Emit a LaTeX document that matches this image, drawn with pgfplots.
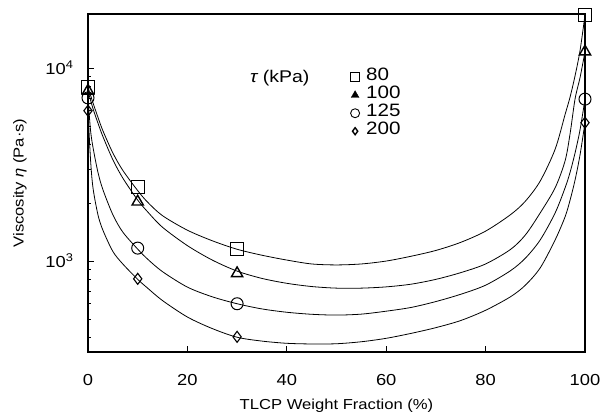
\documentclass[border=0pt]{standalone}
\usepackage{fontspec}
\setmainfont{Liberation Sans}[FakeStretch=1.15]
\usepackage{pgfplots}
\pgfplotsset{compat=1.18}
\usepackage{pgfplotstable}

% fitted curves (x = TLCP wt%, y = viscosity in Pa s)
\pgfplotstableread{
x     y
0     7943
1     6607
2     5559
3     4732
5     3631
7     2951
10    2317
12    2018
15    1718
20    1445
25    1274
30    1151
35    1072
40    1012
45    966
50    955
55    966
60    1000
65    1059
70    1135
75    1250
80    1429
85    1738
88    2042
91    2600
94    3802
96    5754
97    7079
98    9120
99    12303
100   18836
}\fitA
\pgfplotstableread{
x     y
0     7621
1     6166
2     5188
3     4416
5     3350
7     2692
10    2070
12    1799
15    1496
20    1202
25    1012
30    887
35    813
40    767
45    738
50    724
55    724
60    735
65    759
70    804
75    871
80    966
85    1148
88    1365
91    1778
94    2399
96    3311
97    4571
98    6918
99    8913
100   12162
}\fitB
\pgfplotstableread{
x     y
0     6998
0.5   4786
1     3890
2     2884
3     2344
5     1738
7     1413
10    1153
12    1023
15    881
20    733
25    653
30    601
35    565
40    543
45    530
50    525
55    531
60    550
65    575
70    617
75    673
80    750
85    891
88    1035
91    1288
94    1778
96    2399
97    2884
98    3631
99    4786
100   6902
}\fitC
\pgfplotstableread{
x     y
0     6012
0.5   3388
1     2399
2     1738
3     1445
5     1122
7     966
10    804
12    724
15    624
20    513
25    447
30    403
35    385
40    375
45    372
50    373
55    382
60    398
65    422
70    452
75    492
80    556
85    653
88    750
91    923
94    1288
96    1698
97    2070
98    2630
99    3548
100   5212
}\fitD

\begin{document}
\begin{tikzpicture}
\begin{axis}[
  scale only axis, width=497bp, height=338bp,
  ymode=log, xmin=0, xmax=100, ymin=338, ymax=19050,
  xtick={0,20,...,100},
  ytick={1000,10000}, yticklabels={10\textsuperscript{3},10\textsuperscript{4}},
  minor ytick={400,500,600,700,800,900,2000,3000,4000,5000,6000,7000,8000,9000},
  tick align=inside, xtick pos=bottom, ytick pos=left,
  major tick length=6pt, minor tick length=3.5pt,
  axis line style={line width=1.3pt}, tick style={line width=0.8pt,black},
  ticklabel style={font=\fontsize{16}{16}\selectfont},
  xticklabel style={anchor=base, yshift=-34bp},
  yticklabel style={anchor=east, xshift=-11bp},
  /pgf/number format/assume math mode=true,
  xlabel={TLCP Weight Fraction (\%)},
  ylabel={Viscosity {\itshape η} (Pa·s)},
  label style={font=\fontsize{14.5}{14.5}\selectfont},
  xlabel style={at={(axis description cs:0.5,0)}, anchor=base, yshift=-58bp},
  ylabel style={at={(axis description cs:-0.1368,0.5)}, anchor=center},
  clip=false,
  legend style={at={(rel axis cs:0.527,0.849)}, anchor=north west, draw=none, fill=none,
    font=\fontsize{18}{18}\selectfont, row sep=0bp, column sep=6bp, inner sep=0pt,
    nodes={inner sep=0pt, text height=12bp, text depth=0bp},
    legend cell align=left},
  legend image code/.code={\path[draw=none, fill=none] (-5bp,-9bp) rectangle (5bp,9bp);
    \draw[#1] plot coordinates {(0bp,-3bp)};},
]
\addlegendimage{only marks, mark=square, mark size=4.5bp, line width=1.2pt}
\addlegendentry{80}
\addlegendimage{only marks, mark=triangle*, mark size=4.5bp, fill=black}
\addlegendentry{100}
\addlegendimage{only marks, mark=o, mark size=4.5bp, line width=0.9pt}
\addlegendentry{125}
\addlegendimage{only marks, mark=diamond, mark size=3.5bp, line width=1.4pt}
\addlegendentry{200}

\addplot[black, line width=0.8pt, smooth, forget plot] table {\fitA};
\addplot[black, line width=0.8pt, smooth, forget plot] table {\fitB};
\addplot[black, line width=0.8pt, smooth, forget plot] table {\fitC};
\addplot[black, line width=0.8pt, smooth, forget plot] table {\fitD};

\addplot[only marks, mark=square, mark size=6.5bp, line width=1.2pt, forget plot]
  coordinates {(0,7970) (10,2415) (30,1154) (100,18800)};
\addplot[only marks, mark=triangle, mark size=6.5bp, line width=1.4pt, forget plot]
  coordinates {(0,7620) (10,2028) (30,863) (100,12150)};
\addplot[only marks, mark=o, mark size=6bp, line width=1pt, forget plot]
  coordinates {(0,7000) (10,1167) (30,601) (100,6900)};
\addplot[only marks, mark=diamond, mark size=5.5bp, line width=1.1pt, forget plot]
  coordinates {(0,6010) (10,809) (30,405) (100,5210)};

\node[font=\fontsize{17}{17}\selectfont] at (rel axis cs:0.386,0.811) {{\itshape τ} (kPa)};
\end{axis}
\pgfresetboundingbox
\path[use as bounding box] ([shift={(-88bp,-67bp)}]current axis.south west) rectangle ++(600bp,419bp);
\end{tikzpicture}
\end{document}
